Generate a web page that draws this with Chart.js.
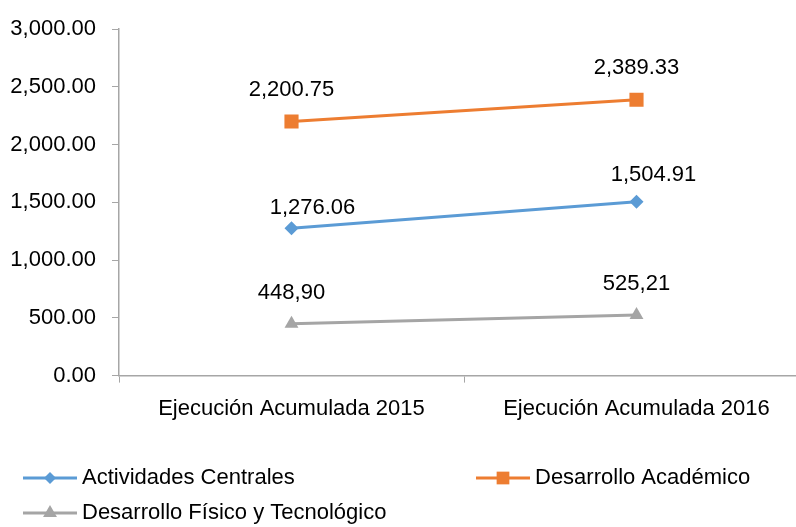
<!DOCTYPE html>
<html>
<head>
<meta charset="utf-8">
<script src="https://cdn.jsdelivr.net/npm/chart.js@4"></script>
<style>
  html, body { margin: 0; padding: 0; background: #fff; overflow: hidden; }
  #wrap { width: 810px; height: 527px; }
</style>
</head>
<body>
<div id="wrap"><canvas id="chart" width="810" height="527"></canvas></div>
<script>
// Datos del gráfico
const categories = ['Ejecución Acumulada 2015', 'Ejecución Acumulada 2016'];
const seriesNames = ['Actividades Centrales', 'Desarrollo Académico', 'Desarrollo Físico y Tecnológico'];
const actividadesCentrales = [1276.06, 1504.91];
const desarrolloAcademico = [2200.75, 2389.33];
const desarrolloFisico = [448.90, 525.21];
// etiquetas tal como aparecen (la serie gris usa coma decimal)
const labelsCentrales = ['1,276.06', '1,504.91'];
const labelsAcademico = ['2,200.75', '2,389.33'];
const labelsFisico = ['448,90', '525,21'];
const yMin = 0, yMax = 3000, yStep = 500;

const FONT = '"Liberation Sans", Arial, sans-serif';
const FONT_SIZE = 22;

function formatTick(v) {
  return Number(v).toLocaleString('en-US', { minimumFractionDigits: 2, maximumFractionDigits: 2 });
}

// Etiquetas de valor sobre cada punto
const valueLabels = {
  id: 'valueLabels',
  afterDatasetsDraw(chart) {
    const ctx = chart.ctx;
    ctx.save();
    ctx.font = FONT_SIZE + 'px ' + FONT;
    ctx.fillStyle = '#000';
    ctx.textAlign = 'center';
    ctx.textBaseline = 'middle';
    chart.data.datasets.forEach((ds, i) => {
      const meta = chart.getDatasetMeta(i);
      meta.data.forEach((pt, j) => {
        const off = ds.labelOffsets[j];
        ctx.fillText(ds.valueLabels[j], pt.x + off[0], pt.y - off[1]);
      });
    });
    ctx.restore();
  }
};

// Leyenda en dos columnas, como la original
const customLegend = {
  id: 'customLegend',
  afterDraw(chart) {
    const ctx = chart.ctx;
    const slots = [{ x: 23, y: 478 }, { x: 476, y: 478 }, { x: 23, y: 513 }];
    ctx.save();
    chart.data.datasets.forEach((ds, i) => {
      const s = slots[i];
      ctx.strokeStyle = ds.borderColor;
      ctx.fillStyle = ds.borderColor;
      ctx.lineWidth = 3;
      ctx.beginPath();
      ctx.moveTo(s.x, s.y);
      ctx.lineTo(s.x + 54, s.y);
      ctx.stroke();
      Chart.helpers.drawPoint(ctx, {
        pointStyle: ds.pointStyle,
        radius: ds.legendRadius,
        rotation: 0,
        borderWidth: 0
      }, s.x + 27, s.y);
      ctx.fillStyle = '#000';
      ctx.font = FONT_SIZE + 'px ' + FONT;
      ctx.textAlign = 'left';
      ctx.textBaseline = 'middle';
      ctx.fillText(ds.label, s.x + 59, s.y);
    });
    ctx.restore();
  }
};

function makeDataset(label, data, color, style, radius, legendRadius, labels, offsets) {
  return {
    label: label,
    data: data,
    borderColor: color,
    backgroundColor: color,
    borderWidth: 3,
    pointStyle: style,
    pointRadius: radius,
    pointHoverRadius: radius,
    pointBorderWidth: 0,
    pointBackgroundColor: color,
    tension: 0,
    valueLabels: labels,
    labelOffsets: offsets,
    legendRadius: legendRadius
  };
}

new Chart(document.getElementById('chart'), {
  type: 'line',
  data: {
    labels: categories,
    datasets: [
      makeDataset(seriesNames[0], actividadesCentrales, '#5b9bd5', 'rectRot', 7, 6, labelsCentrales, [[21, 20], [17, 27]]),
      makeDataset(seriesNames[1], desarrolloAcademico, '#ed7d31', 'rect', 10, 9, labelsAcademico, [[0, 32], [0, 32]]),
      makeDataset(seriesNames[2], desarrolloFisico, '#a5a5a5', 'triangle', 8, 8, labelsFisico, [[0, 31], [0, 31]])
    ]
  },
  options: {
    responsive: false,
    animation: false,
    layout: { autoPadding: false, padding: { left: 0, top: 6, right: 1, bottom: 92 } },
    plugins: {
      legend: { display: false },
      tooltip: { enabled: false }
    },
    scales: {
      x: {
        offset: true,
        grid: { offset: true, drawOnChartArea: false, color: '#a6a6a6', tickLength: 7 },
        border: { color: '#a6a6a6', width: 1.5 },
        ticks: { color: '#000', font: { family: FONT, size: FONT_SIZE }, padding: 13, maxRotation: 0 }
      },
      y: {
        min: yMin,
        max: yMax,
        afterFit: scale => { scale.width = 119; },
        grid: { drawOnChartArea: false, color: '#a6a6a6', tickLength: 7 },
        border: { color: '#a6a6a6', width: 1.5 },
        ticks: {
          stepSize: yStep,
          color: '#000',
          font: { family: FONT, size: FONT_SIZE },
          padding: 16,
          callback: v => formatTick(v)
        }
      }
    }
  },
  plugins: [valueLabels, customLegend]
});
</script>
</body>
</html>
